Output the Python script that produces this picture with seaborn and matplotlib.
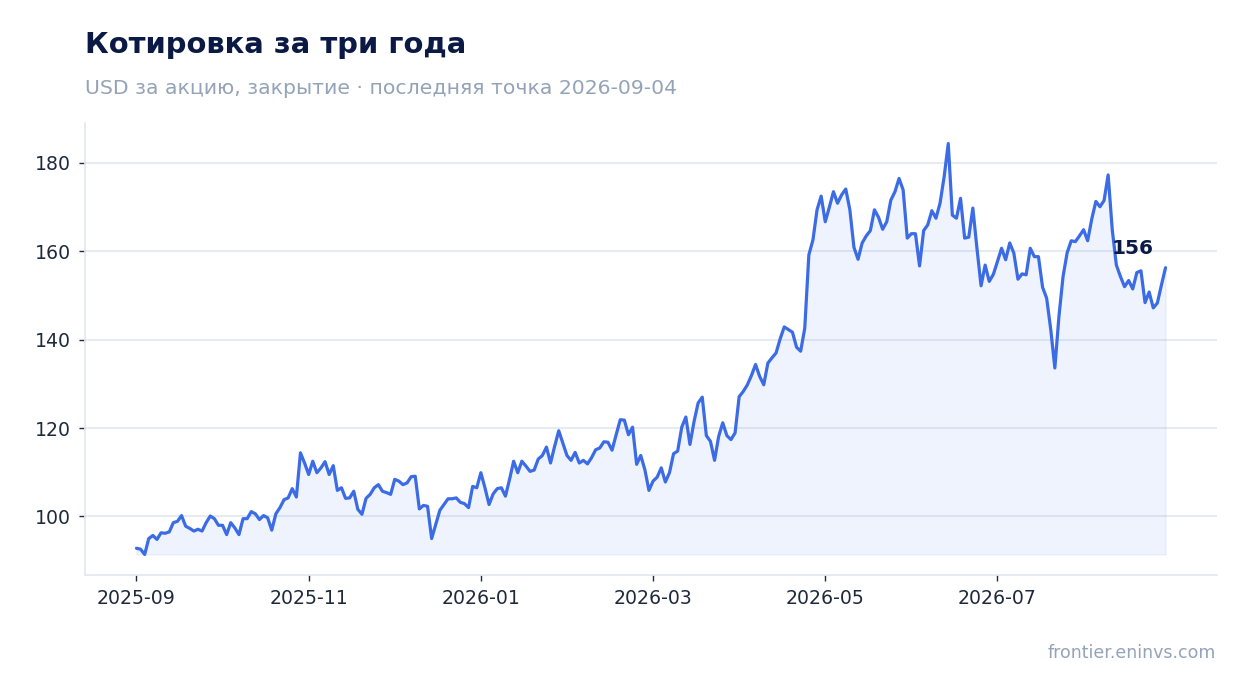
import numpy as np
import pandas as pd
import matplotlib
matplotlib.use("Agg")
import matplotlib.pyplot as plt
import seaborn as sns

# ---- data ----
prices_part1 = [
    92.8, 92.6, 91.4, 95.0, 95.7, 94.8, 96.3, 96.2, 96.5, 98.6,
    98.9, 100.2, 97.8, 97.3, 96.7, 97.1, 96.7, 98.6, 100.1, 99.5,
    98.0, 98.0, 95.9, 98.6, 97.4, 95.9, 99.5, 99.5, 101.1, 100.6,
    99.3, 100.2, 99.7, 96.9, 100.6, 102.0, 103.8, 104.2, 106.3, 104.4,
    114.4, 112.1, 109.5, 112.5, 109.9, 111.0, 112.4, 109.5, 111.5, 105.9,
    106.5, 104.1, 104.2, 105.7, 101.6, 100.5, 104.1, 105.0, 106.5, 107.2,
    105.7, 105.4, 105.0, 108.4, 108.0, 107.2, 107.6, 109.0, 109.1, 101.7,
    102.5, 102.3, 95.0, 98.2, 101.4, 102.7, 104.0, 104.0, 104.2, 103.2,
    102.9, 102.0, 106.8, 106.5, 109.9,
]
prices_part2 = [
    106.5, 102.7, 105.1, 106.3, 106.5, 104.6, 108.4, 112.5, 109.9, 112.5,
    111.4, 110.2, 110.5, 113.0, 113.8, 115.7, 112.1, 115.9, 119.4, 116.6,
    113.8, 112.7, 114.5, 112.1, 112.7, 111.9, 113.3, 115.1, 115.5, 116.9,
    116.8, 115.0, 118.5, 121.9, 121.8, 118.5, 120.2, 111.8, 113.8, 110.6,
    105.9, 108.0, 108.9, 111.0, 107.8, 109.9, 114.2, 114.8, 120.2, 122.5,
    116.3, 121.5, 125.7, 127.0, 118.3, 117.0, 112.7, 118.1, 121.2, 118.3,
    117.4, 118.9, 127.1, 128.3, 129.8, 131.9, 134.4, 131.7, 129.8, 134.7,
    135.9, 137.0, 140.2, 142.9, 142.3, 141.7, 138.3, 137.4, 142.6,
]
prices_part3 = [
    159.2, 162.6, 169.4, 172.5, 166.7, 170.0, 173.5, 170.9, 172.8, 174.1,
    169.4, 160.9, 158.2, 161.9, 163.5, 164.7, 169.4, 167.7, 165.0, 166.7,
    171.6, 173.5, 176.5, 173.9, 163.0, 164.0, 164.0, 156.7, 164.7, 166.0,
    169.2, 167.5, 170.9, 176.9, 184.4, 168.2, 167.5, 172.0, 163.0, 163.2,
    169.8, 160.7, 152.2, 156.9, 153.2, 154.8, 157.7, 160.7, 158.1, 161.9,
    159.6, 153.7, 154.9, 154.7, 160.7, 158.8, 158.8, 151.9, 149.4, 142.3,
    133.6, 145.3, 154.3, 159.7, 162.4, 162.2, 163.5, 164.9, 162.4, 167.3,
    171.3, 170.1, 171.5, 177.3, 164.9, 156.9, 154.3, 152.0, 153.4, 151.5,
    155.2, 155.6, 148.4, 150.8, 147.2, 148.3, 152.4, 156.3,
]
prices = prices_part1 + prices_part2 + prices_part3

tick_positions = [0, 42, 84, 126, 168, 210]
tick_labels = ["2025-09", "2025-11", "2026-01", "2026-03", "2026-05", "2026-07"]
y_ticks = [100, 120, 140, 160, 180]

title = "Котировка за три года"
subtitle = "USD за акцию, закрытие · последняя точка 2026-09-04"
footer = "frontier.eninvs.com"

# ---- style ----
sns.set_theme(style="white")
plt.rcParams["font.family"] = ["DejaVu Sans"]

LINE = "#3b6ce6"
GRID = "#e2e8f0"
TEXT = "#1e293b"
MUTED = "#94a3b8"
NAVY = "#0b1a45"

df = pd.DataFrame({"idx": np.arange(len(prices)), "price": prices})

fig = plt.figure(figsize=(12.47, 6.93), dpi=100)
W, H = 1247, 693
ax = fig.add_axes([85 / W, 1 - 575 / H, (1217 - 85) / W, (575 - 123) / H])

sns.lineplot(data=df, x="idx", y="price", ax=ax, color=LINE, linewidth=2.3)
ax.fill_between(df["idx"], df["price"], df["price"].min(), color=LINE, alpha=0.08, linewidth=1)

ax.set_xticks(tick_positions)
ax.set_xticklabels(tick_labels)
ax.set_yticks(y_ticks)
ax.set_xlabel("")
ax.set_ylabel("")
ax.margins(x=0.05, y=0.05)

ax.grid(axis="y", color=GRID, linewidth=1.2)
ax.grid(axis="x", visible=False)
ax.set_axisbelow(True)
for s in ["top", "right"]:
    ax.spines[s].set_visible(False)
for s in ["left", "bottom"]:
    ax.spines[s].set_color(GRID)
    ax.spines[s].set_linewidth(1.2)
ax.tick_params(axis="both", which="major", length=4, width=1, color=TEXT,
               labelcolor=TEXT, labelsize=13.6, pad=6, bottom=True, left=True)

last_i = len(prices) - 1
ax.annotate(f"{prices[-1]:.0f}", xy=(last_i, prices[-1]), xytext=(-12, 14),
            textcoords="offset pixels", ha="right", va="baseline",
            fontsize=14.5, fontweight="bold", color=NAVY)

fig.text(85 / W, 1 - 53 / H, title, fontsize=20.9, fontweight="bold",
         color=NAVY, ha="left", va="baseline")
fig.text(85 / W, 1 - 94 / H, subtitle, fontsize=14.7, color=MUTED,
         ha="left", va="baseline")
fig.text(1216 / W, 1 - 658 / H, footer, fontsize=12.5, color=MUTED,
         ha="right", va="baseline")

fig.savefig("out.png", dpi=100)
